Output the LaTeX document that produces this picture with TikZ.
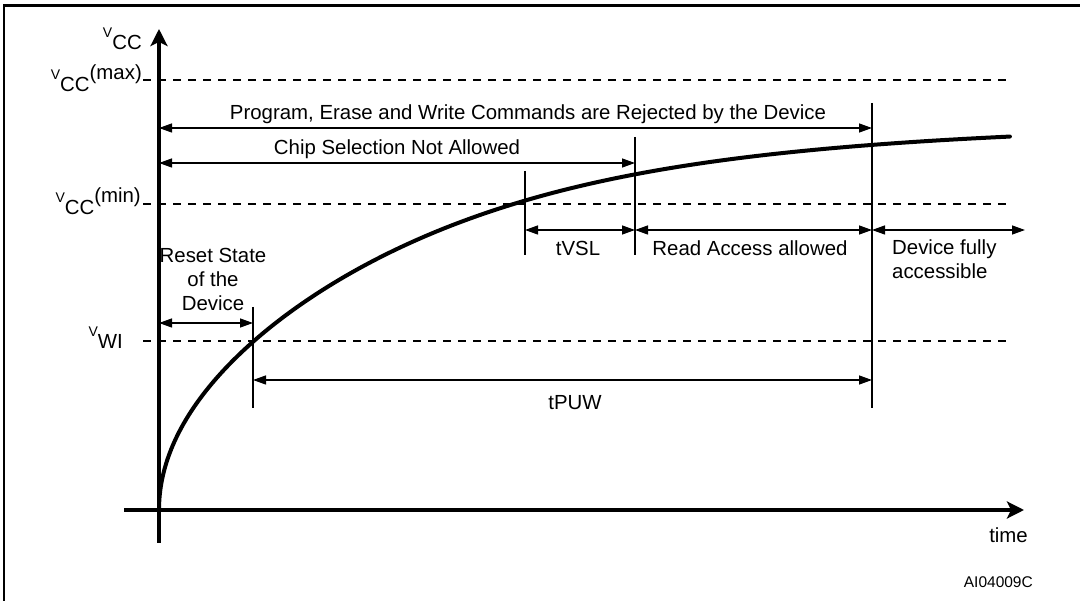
\documentclass[tikz,border=0pt]{standalone}
\usepackage{fontspec}
\setmainfont{Liberation Sans}
\usetikzlibrary{arrows.meta,calc,positioning}

% tension : petit V, indice abaissé
\newcommand{\tension}[2]{{\fontsize{14}{14}\selectfont V}\raisebox{-12pt}{#1}#2}

\begin{document}
\begin{tikzpicture}[
		x=1pt, y=-1pt,
		txt/.style={font=\fontsize{20.4}{24}\selectfont, inner sep=0pt},
		reftxt/.style={font=\fontsize{15.5}{18}\selectfont, inner sep=0pt},
		thresh/.style={line width=1.2pt, dash pattern=on 8pt off 7pt},
		limit/.style={line width=1.3pt},
		dim/.style={<->, line width=1.3pt},
		axisline/.style={line width=3.5pt, -{Stealth[length=17pt, width=17pt, inset=4pt]}},
		curve/.style={line width=4pt, line join=round, line cap=round},
		>={Triangle[length=13pt, width=9pt]}
		]

	\useasboundingbox (0,0) rectangle (1080,601);
	\clip (0,0) rectangle (1080,601);

	% --- Cadre ---
	\draw[line width=2.5pt] (4,640) -- (4,5.5) -- (1120,5.5);

	% --- Axes ---
	\coordinate (O) at (159,510);
	\coordinate (Ytop) at (159,29);
	\coordinate (Ybot) at (159,543);
	\coordinate (Xl) at (124,510);
	\coordinate (Xr) at (1024,510);
	\draw[axisline] (Ybot) -- (Ytop);
	\draw[axisline] (Xl) -- (Xr);
	\node[txt, anchor=base east] (time) at (1028,543) {time};
	\node[reftxt, anchor=base east] (ref) at (1033,587) {AI04009C};

	% --- Seuils de tension ---
	\node[txt, anchor=base east] (vcc) at (142,38) {\tension{CC}{}};
	\node[txt, anchor=base east] (vmax) at (142,80) {\tension{CC}{(max)}};
	\node[txt, anchor=base east] (vmin) at (141,203) {\tension{CC}{(min)}};
	\node[txt, anchor=base east] (vwi) at (123,337) {\tension{WI}{}};

	\coordinate (max0) at (143,80);   \coordinate (max1) at (1010,80);
	\coordinate (min0) at (143,204);  \coordinate (min1) at (1010,204);
	\coordinate (wi0) at (143,341);   \coordinate (wi1) at (1010,341);
	\draw[thresh] (max0) -- (max1);
	\draw[thresh] (min0) -- (min1);
	\draw[thresh] (wi0) -- (wi1);

	% --- Montée de VCC (racine saturée) ---
	\draw[curve] plot[domain=0:29.17, samples=150, variable=\s, smooth]
		({159+\s*\s}, {510-17.4*\s/pow(1+pow(0.04439*\s,5),0.2)});

	% --- Repères verticaux ---
	\coordinate (R1) at (253,307);  \coordinate (R2) at (253,408);
	\coordinate (S1) at (525,171);  \coordinate (S2) at (525,255);
	\coordinate (A1) at (635,137);  \coordinate (A2) at (635,255);
	\coordinate (F1) at (872,103);  \coordinate (F2) at (872,408);
	\draw[limit] (R1) -- (R2);
	\draw[limit] (S1) -- (S2);
	\draw[limit] (A1) -- (A2);
	\draw[limit] (F1) -- (F2);

	% --- Cotes ---
	\coordinate (yProg) at (0,128);
	\coordinate (yChip) at (0,163);
	\coordinate (yAcc) at (0,230);
	\coordinate (yReset) at (0,323);
	\coordinate (yPuw) at (0,380);
	\coordinate (dEnd) at (1025,230);

	\draw[dim] (O |- yProg) -- (F1 |- yProg);
	\draw[dim] (O |- yChip) -- (A1 |- yChip);
	\draw[dim] (S1 |- yAcc) -- (A1 |- yAcc);
	\draw[dim] (A1 |- yAcc) -- (F1 |- yAcc);
	\draw[dim] (F1 |- yAcc) -- (dEnd);
	\draw[dim] (O |- yReset) -- (R1 |- yReset);
	\draw[dim] (R1 |- yPuw) -- (F1 |- yPuw);

	% Textes des cotes
	\node[txt, anchor=base] (prog) at (528,120) {Program, Erase and Write Commands are Rejected by the Device};
	\node[txt, anchor=base] (chip) at (397,155) {Chip Selection Not Allowed};
	\node[txt, anchor=base] (tvsl) at (578,256) {tVSL};
	\node[txt, anchor=base] (read) at (750,256) {Read Access allowed};
	\node[txt, anchor=base west, align=left] (full) at (892,279) {Device fully\\accessible};
	\node[txt, anchor=base, align=center] (reset) at (213,311) {Reset State\\of the\\Device};
	\node[txt, anchor=base] (tpuw) at (575,410) {tPUW};

\end{tikzpicture}
\end{document}
